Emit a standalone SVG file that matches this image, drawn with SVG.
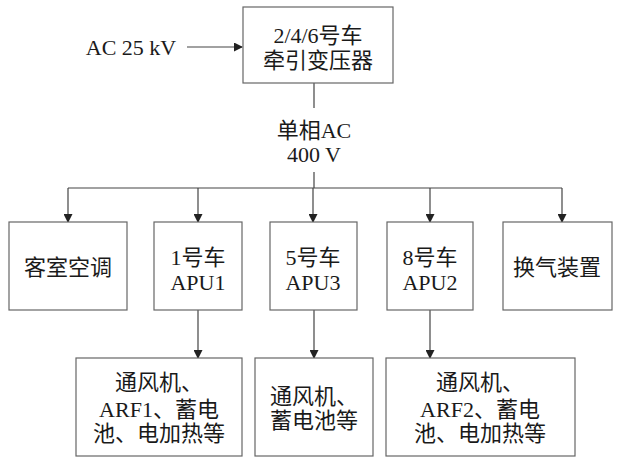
<svg xmlns="http://www.w3.org/2000/svg" width="624" height="459" viewBox="0 0 624 459">
<defs>
<marker id="ah" markerWidth="9" markerHeight="9" refX="8" refY="4.5" orient="auto" markerUnits="userSpaceOnUse">
<path d="M0,0 L9,4.5 L0,9 Z" fill="#222"/>
</marker>
<style>
.box{fill:#fff;stroke:#666;stroke-width:1.2}
.t{font-family:"Liberation Serif","Noto Sans CJK SC",serif;font-size:22px;fill:#1a1a1a;text-anchor:middle}
.c{stroke:#444;stroke-width:1.2;fill:none}
</style>
</defs>
<rect width="624" height="459" fill="#fff"/>
<g id="connectors">
<path class="c" d="M187,47 H242" marker-end="url(#ah)"/>
<path class="c" d="M314,83 V108"/>
<path class="c" d="M314,172 V188"/>
<path class="c" d="M68,188 H562"/>
<path class="c" d="M68,188 V222" marker-end="url(#ah)"/>
<path class="c" d="M198,188 V222" marker-end="url(#ah)"/>
<path class="c" d="M313,188 V222" marker-end="url(#ah)"/>
<path class="c" d="M430,188 V222" marker-end="url(#ah)"/>
<path class="c" d="M562,188 V222" marker-end="url(#ah)"/>
<path class="c" d="M198,310 V358" marker-end="url(#ah)"/>
<path class="c" d="M314,310 V358" marker-end="url(#ah)"/>
<path class="c" d="M430,310 V358" marker-end="url(#ah)"/>
</g>
<g id="input">
<text class="t" x="131" y="55">AC 25 kV</text>
</g>
<g id="transformer">
<rect class="box" x="243" y="7" width="150" height="76"/>
<text class="t" x="318" y="43">2/4/6号车</text>
<text class="t" x="318" y="68">牵引变压器</text>
</g>
<g id="label-400v">
<text class="t" x="314" y="138">单相AC</text>
<text class="t" x="314" y="162">400 V</text>
</g>
<g id="hvac">
<rect class="box" x="9" y="222" width="118" height="88"/>
<text class="t" x="68" y="275">客室空调</text>
</g>
<g id="apu1">
<rect class="box" x="154" y="222" width="88" height="88"/>
<text class="t" x="198" y="265">1号车</text>
<text class="t" x="198" y="290">APU1</text>
</g>
<g id="apu3">
<rect class="box" x="270" y="222" width="87" height="88"/>
<text class="t" x="313" y="265">5号车</text>
<text class="t" x="313" y="290">APU3</text>
</g>
<g id="apu2">
<rect class="box" x="387" y="222" width="86" height="88"/>
<text class="t" x="430" y="265">8号车</text>
<text class="t" x="430" y="290">APU2</text>
</g>
<g id="ventilation">
<rect class="box" x="503" y="222" width="109" height="88"/>
<text class="t" x="557" y="275">换气装置</text>
</g>
<g id="load1">
<rect class="box" x="76" y="358" width="166" height="98"/>
<text class="t" x="159" y="390">通风机、</text>
<text class="t" x="159" y="417">ARF1、蓄电</text>
<text class="t" x="159" y="441">池、电加热等</text>
</g>
<g id="load3">
<rect class="box" x="255" y="358" width="118" height="98"/>
<text class="t" x="314" y="404">通风机、</text>
<text class="t" x="314" y="428">蓄电池等</text>
</g>
<g id="load2">
<rect class="box" x="386" y="358" width="189" height="98"/>
<text class="t" x="480" y="390">通风机、</text>
<text class="t" x="480" y="417">ARF2、蓄电</text>
<text class="t" x="480" y="441">池、电加热等</text>
</g>
</svg>
